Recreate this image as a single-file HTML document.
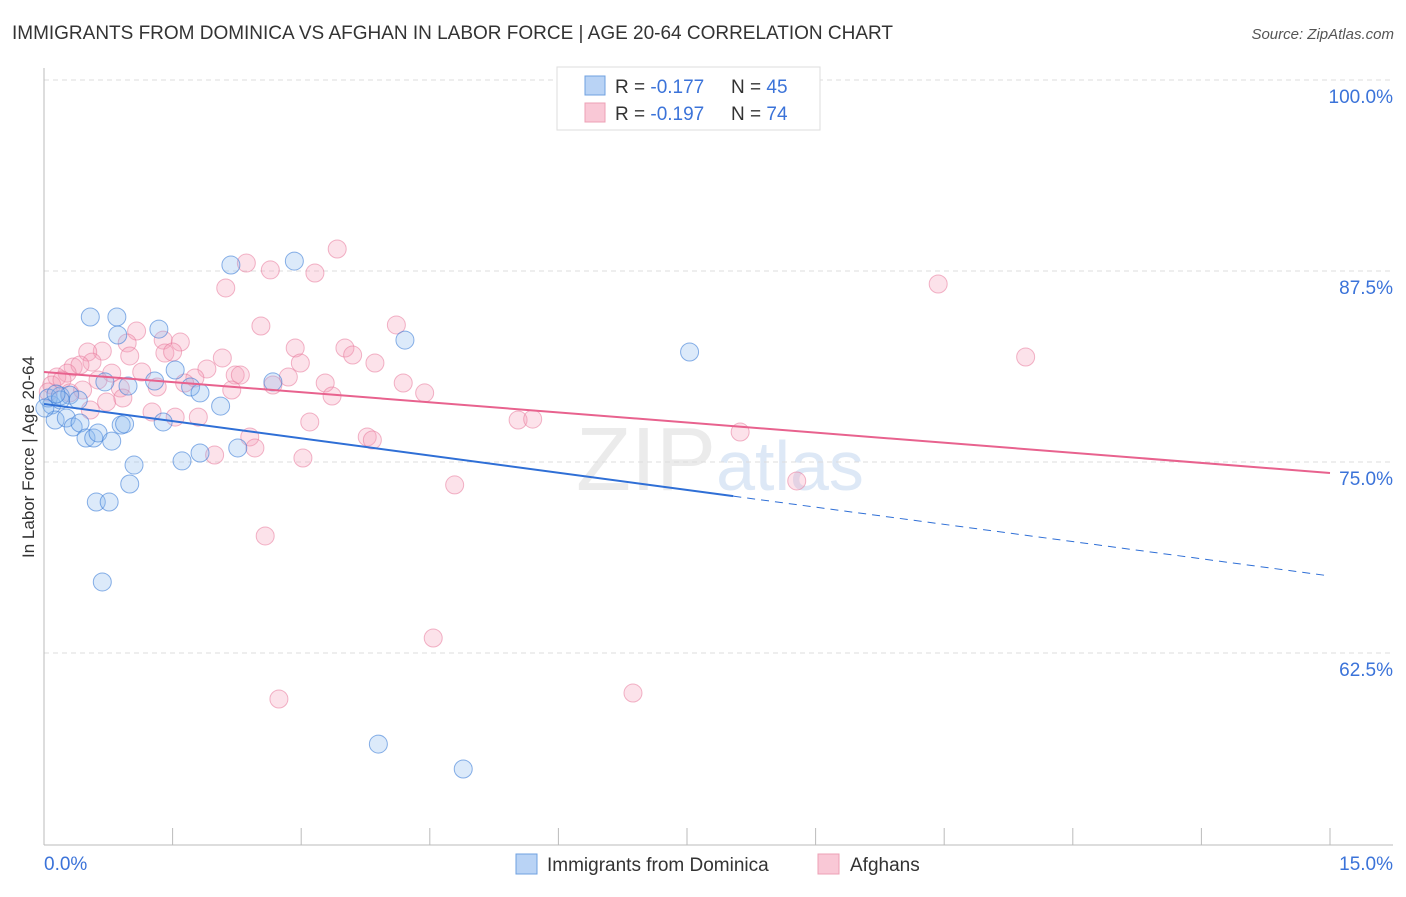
<!DOCTYPE html>
<html><head><meta charset="utf-8"><style>
body{margin:0;background:#fff;font-family:"Liberation Sans",sans-serif}
svg text{font-family:"Liberation Sans",sans-serif}
</style></head><body>
<svg id="c" width="1406" height="892">
<text x="12" y="39" font-size="19" fill="#333" textLength="881">IMMIGRANTS FROM DOMINICA VS AFGHAN IN LABOR FORCE | AGE 20-64 CORRELATION CHART</text>
<text x="1394" y="39" font-size="15" fill="#555" font-style="italic" text-anchor="end">Source: ZipAtlas.com</text>
<text x="34" y="457" font-size="17" fill="#333" text-anchor="middle" transform="rotate(-90 34 457)">In Labor Force | Age 20-64</text>
<text x="720" y="490" font-size="90" fill="#ebebeb" text-anchor="middle" font-family="Liberation Serif">ZIP<tspan fill="#dde8f6" font-family="Liberation Sans" font-size="70">atlas</tspan></text>
<g id="grid"></g><g id="pts"></g><g id="lines"></g>
<g>
<rect x="557" y="67" width="263" height="63" fill="#fff" stroke="#ddd"/>
<rect x="585" y="76" width="20" height="19" fill="#b9d3f5" stroke="#6fa0e0"/>
<rect x="585" y="103" width="20" height="19" fill="#f9c8d6" stroke="#eda0b5"/>
<text x="615" y="93" font-size="19" fill="#333">R = <tspan fill="#3b73d9">-0.177</tspan></text>
<text x="731" y="93" font-size="19" fill="#333">N = <tspan fill="#3b73d9">45</tspan></text>
<text x="615" y="120" font-size="19" fill="#333">R = <tspan fill="#3b73d9">-0.197</tspan></text>
<text x="731" y="120" font-size="19" fill="#333">N = <tspan fill="#3b73d9"> 74</tspan></text>
</g>
<g>
<rect x="516" y="854" width="21" height="20" fill="#b9d3f5" stroke="#6fa0e0"/>
<text x="547" y="871" font-size="19" fill="#333">Immigrants from Dominica</text>
<rect x="818" y="854" width="21" height="20" fill="#f9c8d6" stroke="#eda0b5"/>
<text x="850" y="871" font-size="19" fill="#333">Afghans</text>
</g>
</svg>
<script>
const blueX=[.09,.13,.05,.19,.26,.30,.34,.40,.42,.49,.54,.58,.63,.61,.68,.71,.76,.85,.86,.90,.79,.94,.98,1.05,1.00,1.29,1.34,1.39,1.53,1.61,1.71,1.82,1.82,2.06,2.18,2.26,2.67,2.92,3.90,4.21,4.89,7.53,.19,.01,.14];
const blueY=[78.73,77.75,79.19,79.32,77.88,79.38,77.29,79.06,77.55,76.57,84.49,76.57,76.90,72.38,67.15,80.24,72.38,84.49,83.31,77.42,76.37,77.49,79.97,74.80,73.56,80.30,83.70,77.62,81.02,75.07,79.91,79.52,75.59,78.66,87.89,75.92,80.24,88.15,56.54,82.98,54.91,82.20,79.06,78.53,79.45];
const pinkX=[2.36,2.64,3.16,3.42,2.12,2.53,4.11,1.08,1.39,1.59,.97,.68,.51,.56,1.00,1.41,1.50,2.08,2.93,2.99,3.51,3.60,3.86,.34,.42,.27,.15,.79,.63,1.14,1.90,2.23,2.29,2.85,1.76,1.64,.45,.89,.73,.92,1.32,2.19,2.67,3.28,3.36,4.19,4.44,1.26,1.53,1.80,3.10,2.40,2.46,1.99,3.02,3.77,3.83,4.79,2.58,4.54,2.74,6.87,5.53,5.70,8.12,8.78,10.43,11.45,.09,.21,.05,.30,.54];
const pinkY=[88.02,87.57,87.37,88.94,86.39,83.90,83.97,83.57,82.98,82.85,82.79,82.26,82.20,81.54,81.94,82.13,82.20,81.81,82.46,81.48,82.46,82.00,81.48,81.22,81.35,80.82,80.56,80.82,80.37,80.89,81.09,80.69,80.69,80.56,80.50,80.17,79.71,79.84,78.93,79.19,79.91,79.71,80.04,80.17,79.32,80.17,79.52,78.27,77.94,77.94,77.62,76.64,75.92,75.46,75.26,76.64,76.44,73.50,70.16,63.48,59.49,59.88,77.75,77.81,76.96,73.76,86.65,81.87,80.04,80.37,79.58,79.52,78.40];
const yTicks=[100,87.5,75,62.5];
const yTickLabels=["100.0%","87.5%","75.0%","62.5%"];
const xTicks=[0,1.5,3,4.5,6,7.5,9,10.5,12,13.5,15];
const blueTrend=[78.80,67.54]; // y at x=0, x=15
const blueSolidEnd=8.04;
const pinkTrend=[80.89,74.28];
const NS='http://www.w3.org/2000/svg';
const X=v=>44+v/15*1286, Y=v=>80+(100-v)/12.5*191;
function mk(t,a,p){const e=document.createElementNS(NS,t);for(const k in a)e.setAttribute(k,a[k]);p.appendChild(e);return e;}
const g=document.getElementById('grid');
yTicks.forEach((t,i)=>{
 const l=mk('line',{x1:44,x2:1393,y1:Y(t),y2:Y(t),stroke:'#ddd','stroke-dasharray':'5,4'},g);
 
 
 const tx=mk('text',{x:1393,y:Y(t)+23,'font-size':19,fill:'#3b73d9','text-anchor':'end'},g);
 tx.textContent=yTickLabels[i];
 
 
});
const ax=mk('line',{x1:44,x2:44,y1:68,y2:845,stroke:'#bbb'},g);


const bx=mk('line',{x1:44,x2:1393,y1:845,y2:845,stroke:'#bbb'},g);


xTicks.forEach(t=>{const l=mk('line',{x1:X(t),x2:X(t),y1:828,y2:845,stroke:'#bbb'},g);
 
 });
const x0=mk('text',{x:44,y:870,'font-size':19,fill:'#3b73d9'},g);x0.textContent='0.0%';


const x1=mk('text',{x:1393,y:870,'font-size':19,fill:'#3b73d9','text-anchor':'end'},g);x1.textContent='15.0%';


const P=document.getElementById('pts');
pinkX.forEach((v,i)=>{const c=mk('circle',{cx:X(v),cy:Y(pinkY[i]),r:9,fill:'rgba(244,160,185,0.3)',stroke:'rgba(232,120,155,0.55)','stroke-width':1},P);
 
 });
blueX.forEach((v,i)=>{const c=mk('circle',{cx:X(v),cy:Y(blueY[i]),r:9,fill:'rgba(140,185,240,0.3)',stroke:'rgba(60,125,215,0.6)','stroke-width':1},P);
 
 });
const L=document.getElementById('lines');
const by=x=>blueTrend[0]+(blueTrend[1]-blueTrend[0])*x/15;
const b1=mk('line',{x1:X(0),y1:Y(by(0)),x2:X(blueSolidEnd),y2:Y(by(blueSolidEnd)),stroke:'#2f6fd6','stroke-width':2},L);


const b2=mk('line',{x1:X(blueSolidEnd),y1:Y(by(blueSolidEnd)),x2:X(15),y2:Y(by(15)),stroke:'#2f6fd6','stroke-width':1,'stroke-dasharray':'8,6'},L);


const p1=mk('line',{x1:X(0),y1:Y(pinkTrend[0]),x2:X(15),y2:Y(pinkTrend[1]),stroke:'#e8628e','stroke-width':2},L);


</script>
</body></html>
